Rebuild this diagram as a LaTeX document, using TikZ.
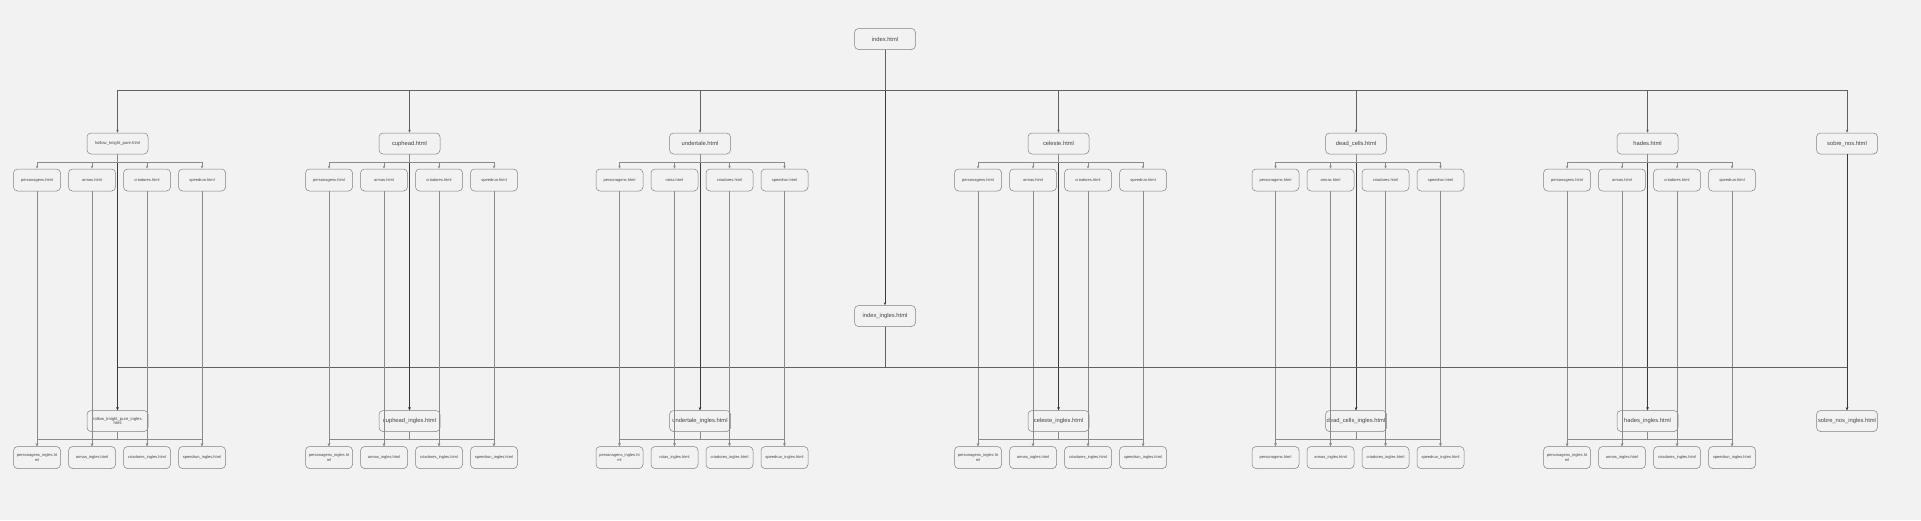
\documentclass[tikz,border=0pt]{standalone}
\usepackage{fontspec}
\setmainfont{Liberation Sans}
\usetikzlibrary{arrows.meta}

\definecolor{bg}{HTML}{F2F2F2}
\definecolor{boxline}{HTML}{808080}
\definecolor{linegray}{HTML}{8A8A8A}
\definecolor{linedark}{HTML}{3A3A3A}
\definecolor{txt}{HTML}{444444}

\newcommand{\gamefont}{\fontsize{5.8}{6.4}\selectfont}
\newcommand{\namefont}{\fontsize{4.2}{4.8}\selectfont}

\begin{document}
\begin{tikzpicture}[x=1pt,y=-1pt,
    page/.style={draw=boxline,fill=bg,rounded corners=4pt,line width=0.5pt,
        minimum width=61pt,minimum height=21pt,inner sep=1pt,align=center,
        text=txt,font=\gamefont},
    subpage/.style={page,minimum width=47pt,minimum height=22pt,
        font=\fontsize{4}{4.6}\selectfont},
    link/.style={draw=linegray,line width=0.5pt,-{Stealth[length=3pt,width=2.4pt]}},
    bus/.style={link,draw=linedark!80,line width=0.7pt},
    spine/.style={link,draw=linedark,line width=0.9pt}]
    \fill[bg] (0,0) rectangle (1921,520);

    % home pages
    \node[page] (idx) at (885,39) {index.html};
    \node[page] (idxen) at (885,316) {index\_ingles.html};
    \draw[spine] (idx.south) -- (idxen.north);

    % one block per game
    \foreach \g/\x/\gf/\gtop/\gbot/\two/\pen in {
        hk/117.5/\namefont/hollow\_knight\_pure.html/hollow\_knight\_pure\_ingles.\\html/armas/personagens\_ingles.ht\\ml,
        cup/409.5/\gamefont/cuphead.html/cuphead\_ingles.html/armas/personagens\_ingles.ht\\ml,
        und/700/\gamefont/undertale.html/undertale\_ingles.html/rotas/personagens\_ingles.ht\\ml,
        cel/1058.5/\gamefont/celeste.html/celeste\_ingles.html/armas/personagens\_ingles.ht\\ml,
        dc/1356/\gamefont/dead\_cells.html/dead\_cells\_ingles.html/armas/personagens.html,
        had/1647.5/\gamefont/hades.html/hades\_ingles.html/armas/personagens\_ingles.ht\\ml}
    {
        \node[page,font=\gf] (\g) at (\x,143.5) {\gtop};
        \node[page,font=\gf] (\g en) at (\x,421) {\gbot};
        \node[subpage] (\g1) at (\x-80.5,180) {personagens.html};
        \node[subpage] (\g2) at (\x-25.5,180) {\two.html};
        \node[subpage] (\g3) at (\x+29.5,180) {criadores.html};
        \node[subpage] (\g4) at (\x+84.5,180) {speedrun.html};
        \node[subpage] (\g1en) at (\x-80.5,457.5) {\pen};
        \node[subpage] (\g2en) at (\x-25.5,457.5) {\two\_ingles.html};
        \node[subpage] (\g3en) at (\x+29.5,457.5) {criadores\_ingles.html};
        \node[subpage] (\g4en) at (\x+84.5,457.5) {speedrun\_ingles.html};
        \draw[bus] (idx.south) -- ++(0,41) -| (\g.north);
        \draw[bus] (idxen.south) -- ++(0,41) -| (\g en.north);
        \draw[spine] (\g.south) -- (\g en.north);
        \foreach \i in {1,...,4} {
            \draw[link] (\g.south) -- ++(0,8) -| (\g\i.north);
            \draw[link] (\g en.south) -- ++(0,7) -| (\g\i en.north);
            \draw[link] (\g\i.south) -- (\g\i en.north);
        }
    }

    % about page
    \node[page] (sob) at (1847,143.5) {sobre\_nos.html};
    \node[page] (soben) at (1847,421) {sobre\_nos\_ingles.html};
    \draw[bus] (idx.south) -- ++(0,41) -| (sob.north);
    \draw[bus] (idxen.south) -- ++(0,41) -| (soben.north);
    \draw[spine] (sob.south) -- (soben.north);
\end{tikzpicture}
\end{document}
